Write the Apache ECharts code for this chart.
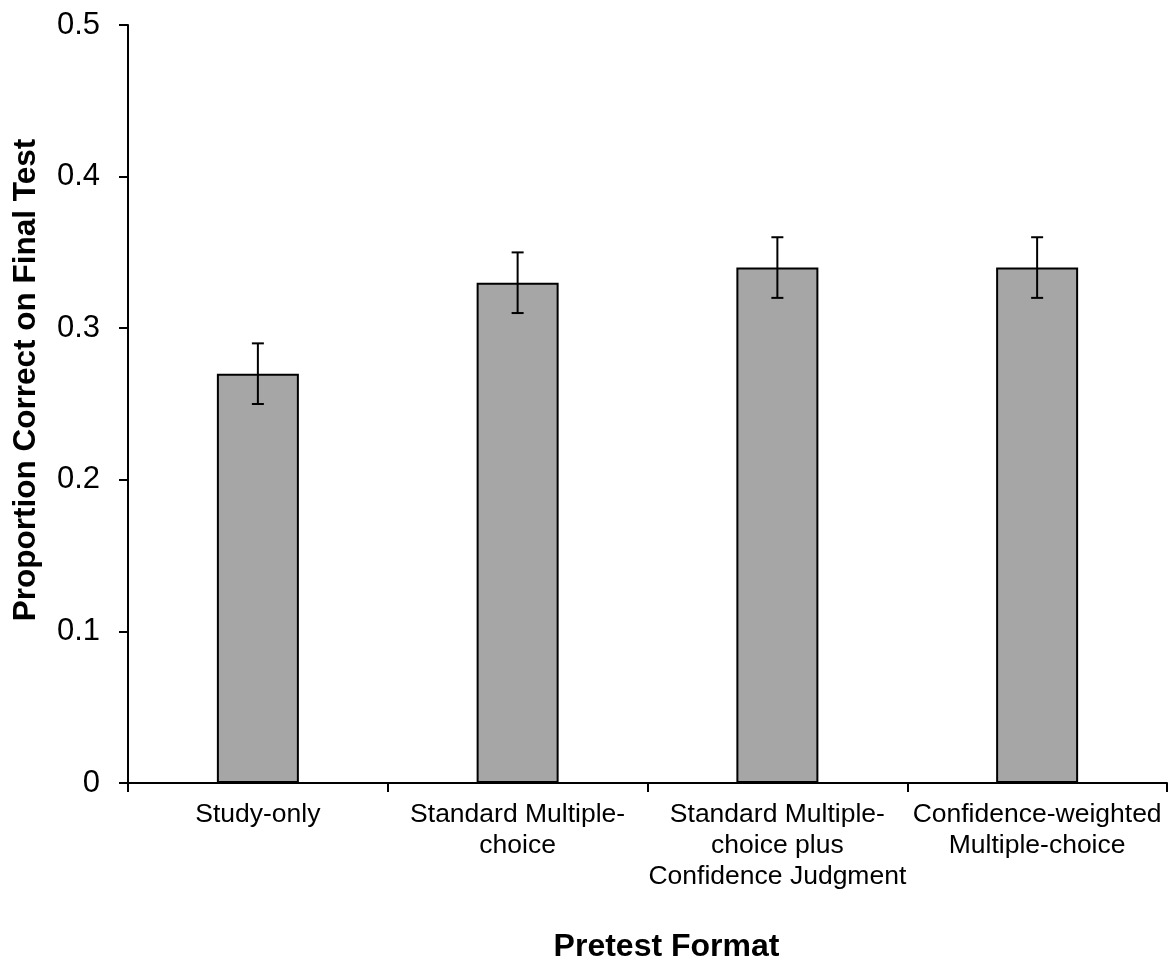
<!DOCTYPE html>
<html>
<head>
<meta charset="utf-8">
<script src="https://cdn.jsdelivr.net/npm/echarts@6/dist/echarts.min.js"></script>
<style>
  html, body { margin: 0; padding: 0; background: #fff; }
  #chart { width: 1171px; height: 964px; }
</style>
</head>
<body>
<div id="chart"></div>
<script>
const categories = [
    'Study-only',
    'Standard Multiple-\nchoice',
    'Standard Multiple-\nchoice plus\nConfidence Judgment',
    'Confidence-weighted\nMultiple-choice'
];
const means = [0.27, 0.33, 0.34, 0.34];
const errors = [0.02, 0.02, 0.02, 0.02];

const chart = echarts.init(document.getElementById('chart'));

const errorData = means.map((m, i) => [i, m - errors[i], m + errors[i]]);

const option = {
    animation: false,
    grid: { left: 128, right: 4, top: 25, bottom: 181, outerBoundsMode: 'none' },
    xAxis: {
        type: 'category',
        data: categories,
        name: 'Pretest Format',
        nameLocation: 'middle',
        nameGap: 148,
        nameTextStyle: {
            fontFamily: 'Liberation Sans', fontSize: 32, fontWeight: 'bold', color: '#000',
            padding: [0, 0, 0, 38]
        },
        axisLine: { lineStyle: { color: '#000', width: 2 } },
        axisTick: { show: true, length: 9, inside: false, lineStyle: { color: '#000', width: 2 } },
        axisLabel: { fontFamily: 'Liberation Sans', fontSize: 26.5, color: '#000', margin: 16, lineHeight: 31, interval: 0 }
    },
    yAxis: {
        type: 'value',
        min: 0,
        max: 0.5,
        interval: 0.1,
        name: 'Proportion Correct on Final Test',
        nameLocation: 'middle',
        nameGap: 86,
        nameTextStyle: {
            fontFamily: 'Liberation Sans', fontSize: 31.5, fontWeight: 'bold', color: '#000',
            padding: [0, 0, 0, 48]
        },
        axisLine: { show: true, lineStyle: { color: '#000', width: 2 } },
        axisTick: { show: true, length: 9, lineStyle: { color: '#000', width: 2 } },
        splitLine: { show: false },
        axisLabel: {
            fontFamily: 'Liberation Sans', fontSize: 31, color: '#000', margin: 28,
            formatter: v => (v === 0 ? '0' : String(Math.round(v * 10) / 10))
        }
    },
    series: [
        {
            type: 'bar',
            data: means,
            barWidth: 82,
            itemStyle: { color: '#a6a6a6', borderColor: '#000', borderWidth: 2 }
        },
        {
            type: 'custom',
            data: errorData,
            z: 10,
            renderItem: (params, api) => {
                const x = api.value(0);
                const lo = api.coord([x, api.value(1)]);
                const hi = api.coord([x, api.value(2)]);
                const cap = 6;
                const style = { stroke: '#000', lineWidth: 2 };
                return {
                    type: 'group',
                    children: [
                        { type: 'line', shape: { x1: lo[0], y1: lo[1], x2: hi[0], y2: hi[1] }, style },
                        { type: 'line', shape: { x1: hi[0] - cap, y1: hi[1], x2: hi[0] + cap, y2: hi[1] }, style },
                        { type: 'line', shape: { x1: lo[0] - cap, y1: lo[1], x2: lo[0] + cap, y2: lo[1] }, style }
                    ]
                };
            }
        }
    ]
};

chart.setOption(option);
</script>
</body>
</html>
